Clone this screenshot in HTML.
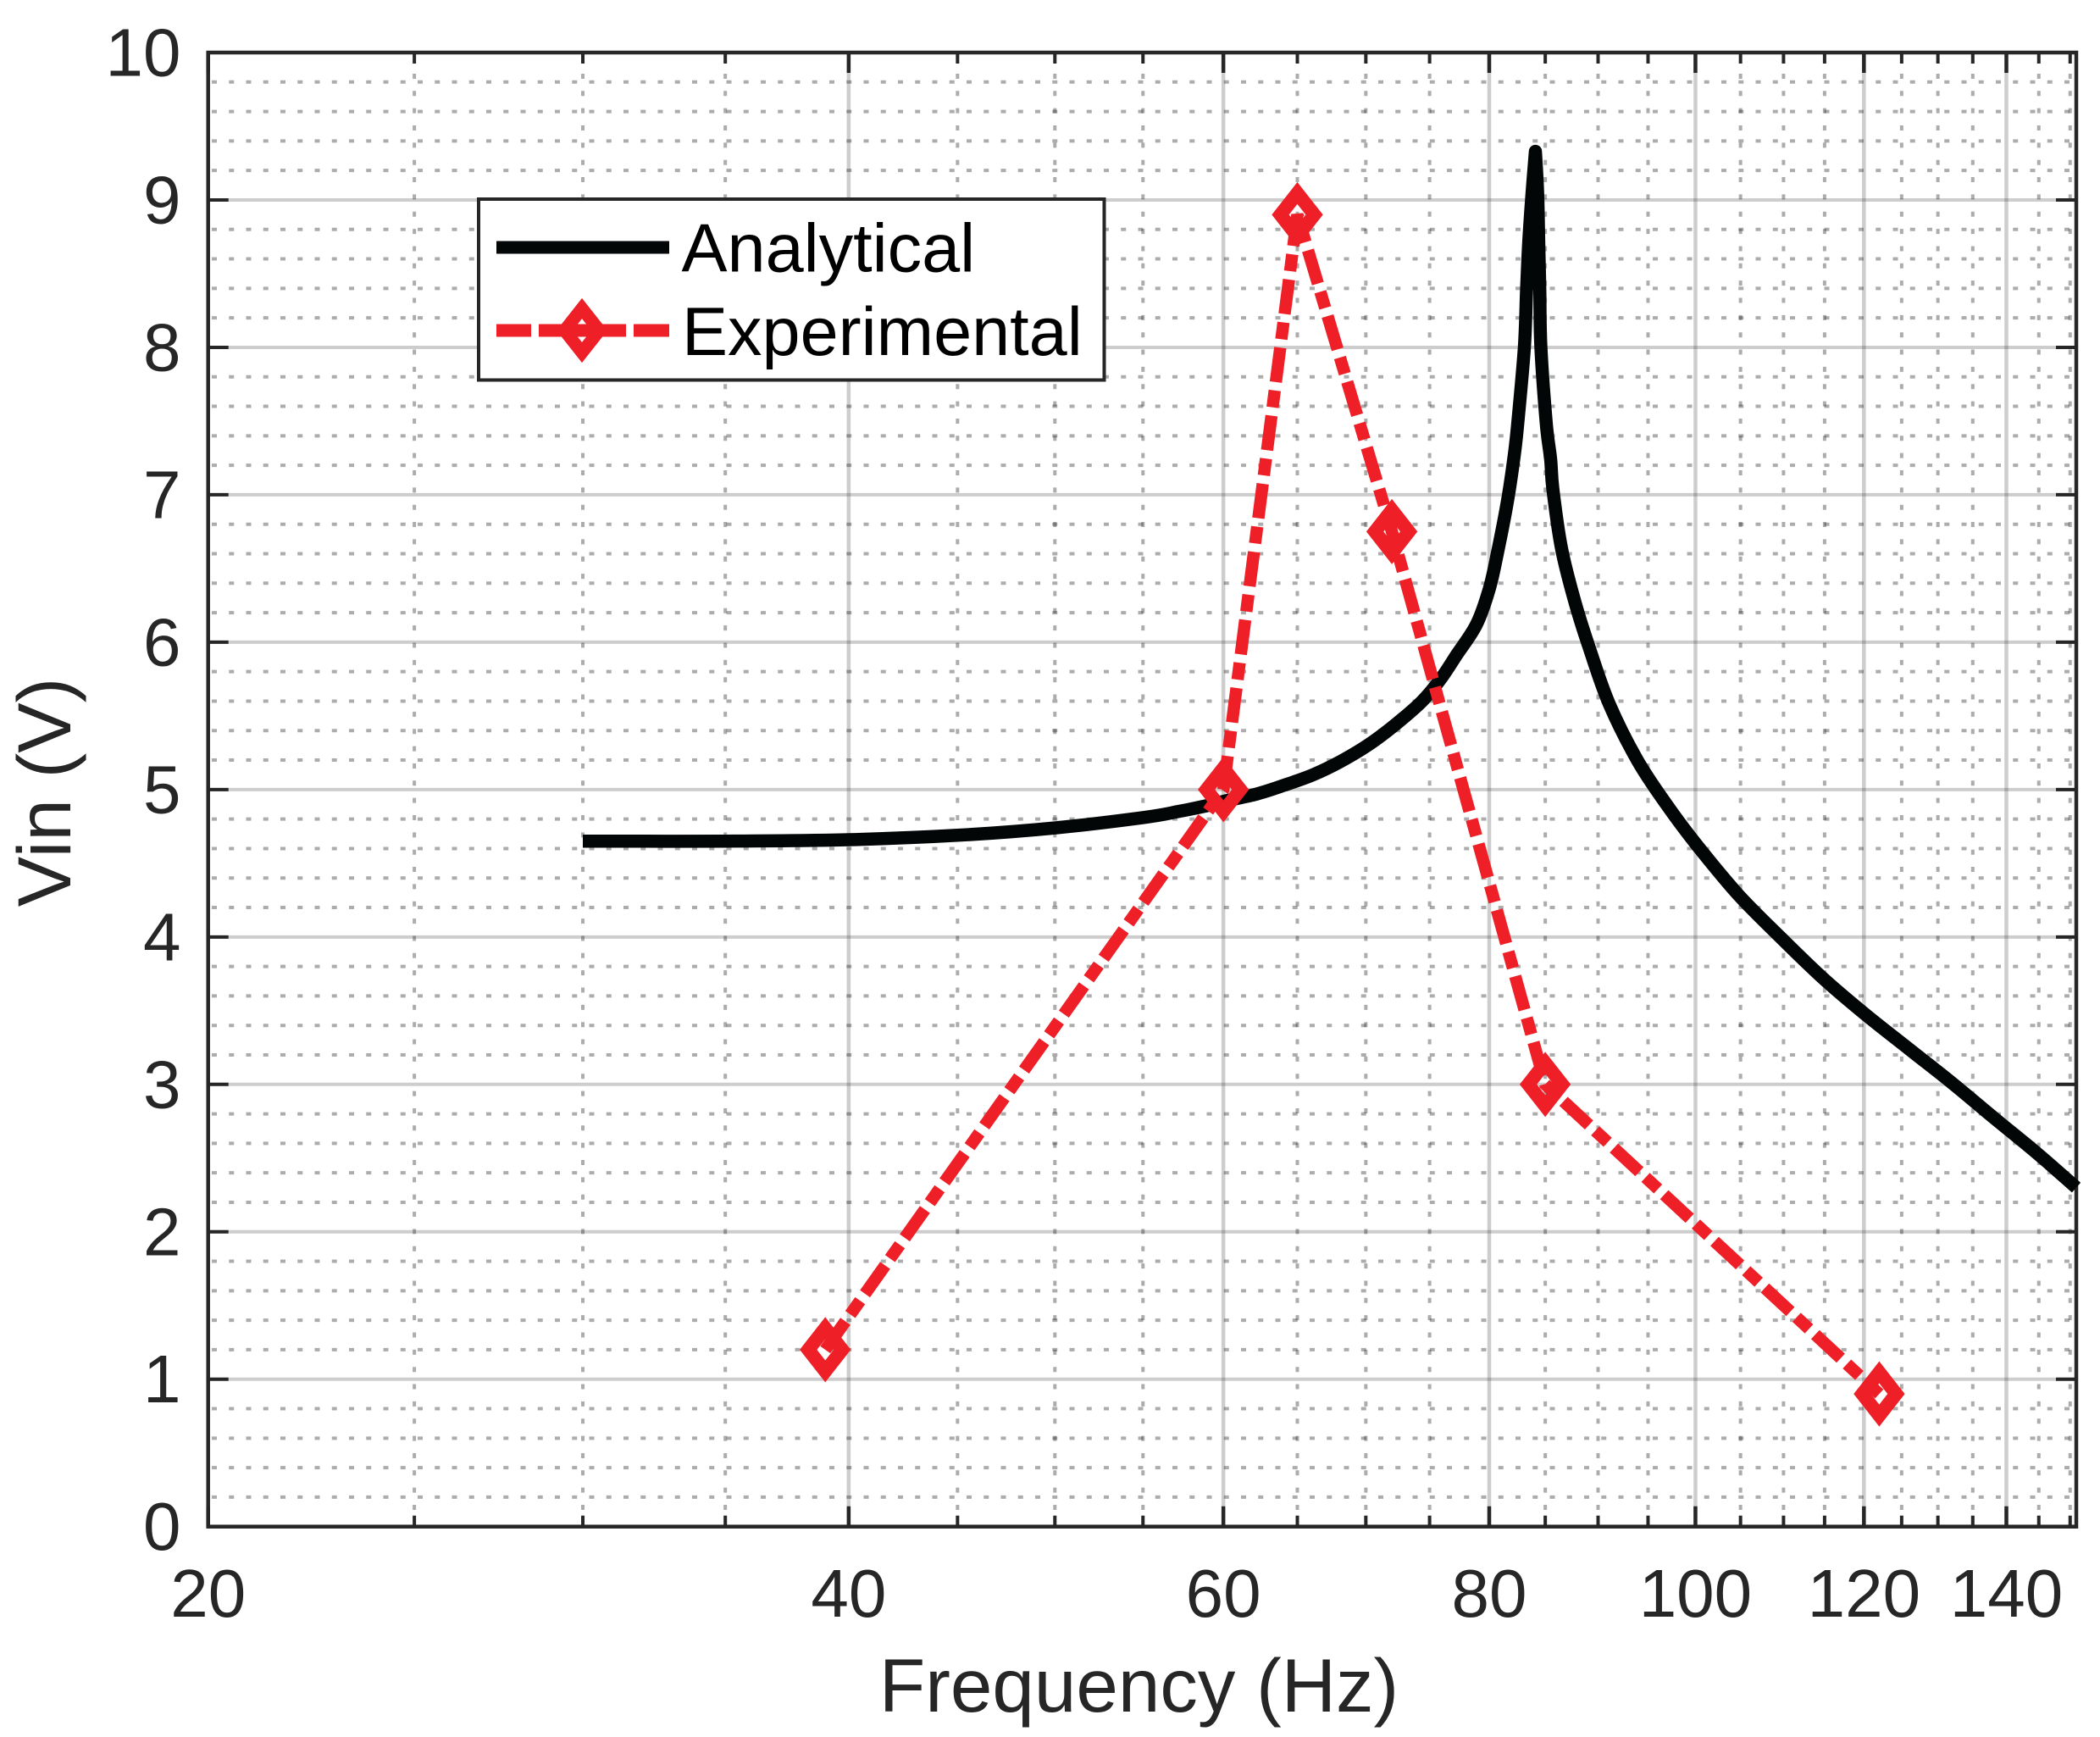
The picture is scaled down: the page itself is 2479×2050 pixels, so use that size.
<!DOCTYPE html>
<html lang="en">
<head>
<meta charset="utf-8">
<title>Vin vs Frequency</title>
<style>
html,body{margin:0;padding:0;background:#fff;}
svg{display:block;font-family:"Liberation Sans",Arial,sans-serif;}
</style>
</head>
<body>
<svg id="chart" xmlns="http://www.w3.org/2000/svg" width="2479" height="2050" viewBox="0 0 2479 2050">
  <rect x="0" y="0" width="2479" height="2050" fill="#ffffff"/>
  <g id="grid"></g>
  <g id="series"></g>
  <g id="axes"></g>
  <text x="1344.5" y="2020" font-size="89" text-anchor="middle" fill="#262626">Frequency (Hz)</text>
  <text transform="translate(83,935) rotate(-90)" font-size="89" text-anchor="middle" fill="#262626">Vin (V)</text>
  <g>
    <rect x="565" y="235" width="738.5" height="213.5" fill="#ffffff" stroke="#262626" stroke-width="4"/>
    <line x1="586" y1="292" x2="790" y2="292" stroke="#030607" stroke-width="15"/>
    <line x1="586" y1="390" x2="790" y2="390" stroke="#ee1f27" stroke-width="15" stroke-dasharray="41 9 103 9 42"/>
    <polygon points="687,364 707.5,390 687,416 666.5,390" fill="none" stroke="#ee1f27" stroke-width="15" stroke-miterlimit="10"/>
    <text x="804.5" y="320.5" font-size="81" fill="#000000">Analytical</text>
    <text x="805" y="419" font-size="81" fill="#000000">Experimental</text>
  </g>
</svg>
<script>
// Axis tick values
const xMajorTicks = [20, 40, 60, 80, 100, 120, 140];
const xMinorTicks = [25, 30, 35, 45, 50, 55, 65, 70, 75, 85, 90, 95, 105, 110, 115, 125, 130, 135, 145, 150];
const yMajorTicks = [0, 1, 2, 3, 4, 5, 6, 7, 8, 9, 10];
const yMinorTicks = [0.2, 0.4, 0.6, 0.8, 1.2, 1.4, 1.6, 1.8, 2.2, 2.4, 2.6, 2.8, 3.2, 3.4, 3.6, 3.8, 4.2, 4.4, 4.6, 4.8, 5.2, 5.4, 5.6, 5.8, 6.2, 6.4, 6.6, 6.8, 7.2, 7.4, 7.6, 7.8, 8.2, 8.4, 8.6, 8.8, 9.2, 9.4, 9.6, 9.8];

// Analytical series
const analyticalFreq = [30, 35, 40, 45, 50, 55, 57.1, 58.9, 60, 62.2, 64.1, 66.1, 68.1, 70.3, 72.4, 74.4, 75.9, 77.2, 78.9, 80, 80.7, 81.6, 82.2, 82.5, 83.1, 83.3, 83.5, 83.8, 84.1, 84.3, 84.4, 84.5, 84.6, 85.1, 85.5, 85.7, 86.5, 87.7, 89.2, 91.1, 93.9, 96.9, 100.2, 104.7, 109.6, 114.8, 120.3, 126, 132, 138.2, 144.8, 151];
const analyticalVin = [4.65, 4.65, 4.66, 4.69, 4.74, 4.81, 4.85, 4.89, 4.92, 4.97, 5.03, 5.1, 5.19, 5.31, 5.45, 5.6, 5.75, 5.91, 6.12, 6.36, 6.6, 6.96, 7.27, 7.48, 8.0, 8.39, 8.72, 9.05, 9.33, 9.05, 8.72, 8.39, 8.0, 7.48, 7.24, 7.04, 6.64, 6.29, 5.95, 5.58, 5.2, 4.9, 4.62, 4.29, 4.0, 3.72, 3.47, 3.24, 3.01, 2.77, 2.53, 2.3];

// Experimental series
const experimentalFreq = [39, 60, 65, 72, 85, 122];
const experimentalVin = [1.2, 5, 8.9, 6.75, 3, 0.9];

const SVG_NS = 'http://www.w3.org/2000/svg';
const plotLeft = 245.7, plotRight = 2451, plotTop = 62, plotBottom = 1801.7;
const xMin = 20, xMax = 151, yMin = 0, yMax = 10;

function xScale(f) {
  return plotLeft + (plotRight - plotLeft) * Math.log(f / xMin) / Math.log(xMax / xMin);
}
function yScale(v) {
  return plotBottom - (plotBottom - plotTop) * (v - yMin) / (yMax - yMin);
}
function make(tag, attrs, parent) {
  const el = document.createElementNS(SVG_NS, tag);
  for (const k in attrs) el.setAttribute(k, attrs[k]);
  parent.appendChild(el);
  return el;
}
// Smooth curve through a run of points (Catmull-Rom), kept sharp at the run's ends
function smoothRun(pts) {
  let d = '';
  for (let i = 0; i < pts.length - 1; i++) {
    const p0 = pts[Math.max(0, i - 1)], p1 = pts[i], p2 = pts[i + 1], p3 = pts[Math.min(pts.length - 1, i + 2)];
    const c1x = p1[0] + (p2[0] - p0[0]) / 6, c1y = p1[1] + (p2[1] - p0[1]) / 6;
    const c2x = p2[0] - (p3[0] - p1[0]) / 6, c2y = p2[1] - (p3[1] - p1[1]) / 6;
    d += ' C' + c1x.toFixed(1) + ' ' + c1y.toFixed(1) + ' ' + c2x.toFixed(1) + ' ' + c2y.toFixed(1) + ' ' + p2[0].toFixed(1) + ' ' + p2[1].toFixed(1);
  }
  return d;
}

const grid = document.getElementById('grid');
const series = document.getElementById('series');
const axes = document.getElementById('axes');
const INK = '#262626';

// Minor grid
yMinorTicks.forEach(function (v) {
  const el = make('line', {x1: 250, x2: plotRight - 2, y1: yScale(v), y2: yScale(v), stroke: INK, 'stroke-opacity': 0.38, 'stroke-width': 4, 'stroke-dasharray': '6 14.25'}, grid);
  
  
});
xMinorTicks.forEach(function (f) {
  const el = make('line', {x1: xScale(f), x2: xScale(f), y1: 1782, y2: plotTop + 20, stroke: INK, 'stroke-opacity': 0.38, 'stroke-width': 4, 'stroke-dasharray': '6 14.35'}, grid);
  
  
});
// Major grid
yMajorTicks.slice(1, -1).forEach(function (v) {
  const el = make('line', {x1: plotLeft, x2: plotRight, y1: yScale(v), y2: yScale(v), stroke: INK, 'stroke-opacity': 0.23, 'stroke-width': 4}, grid);
  
  
});
xMajorTicks.slice(1).forEach(function (f) {
  const el = make('line', {x1: xScale(f), x2: xScale(f), y1: plotTop, y2: plotBottom, stroke: INK, 'stroke-opacity': 0.23, 'stroke-width': 4.5}, grid);
  
  
});

// Analytical curve: smooth on both flanks, sharp at the resonance peak
const analyticalPts = analyticalFreq.map(function (f, i) {
  return [xScale(f), yScale(analyticalVin[i])];
});
const peakIndex = analyticalVin.indexOf(Math.max.apply(null, analyticalVin));
const analyticalPath = 'M' + analyticalPts[0][0].toFixed(1) + ' ' + analyticalPts[0][1].toFixed(1) +
  smoothRun(analyticalPts.slice(0, peakIndex + 1)) + smoothRun(analyticalPts.slice(peakIndex));
const analyticalLine = make('path', {d: analyticalPath, fill: 'none', stroke: '#030607', 'stroke-width': 15.5, 'stroke-linejoin': 'round', 'stroke-linecap': 'butt'}, series);



// Experimental curve
const experimentalPts = experimentalFreq.map(function (f, i) {
  return xScale(f).toFixed(1) + ',' + yScale(experimentalVin[i]).toFixed(1);
}).join(' ');
const experimentalLine = make('polyline', {points: experimentalPts, fill: 'none', stroke: '#ee1f27', 'stroke-width': 14.5, 'stroke-linejoin': 'miter', 'stroke-dasharray': '41 10 20 10'}, series);



experimentalFreq.forEach(function (f, i) {
  const cx = xScale(f), cy = yScale(experimentalVin[i]);
  const pts = [[0, -25.5], [20, 0], [0, 25.5], [-20, 0]].map(function (p) {
    return (cx + p[0]).toFixed(1) + ',' + (cy + p[1]).toFixed(1);
  }).join(' ');
  const el = make('polygon', {points: pts, fill: 'none', stroke: '#ee1f27', 'stroke-width': 16, 'stroke-miterlimit': 10}, series);
  
  
});

// Ticks
xMajorTicks.forEach(function (f) {
  const x = xScale(f);
  const b = make('line', {x1: x, x2: x, y1: plotBottom, y2: plotBottom - 24, stroke: INK, 'stroke-width': 4.5}, axes);
  
  
  const t = make('line', {x1: x, x2: x, y1: plotTop, y2: plotTop + 24, stroke: INK, 'stroke-width': 4.5}, axes);
  
  
  const label = make('text', {x: x, y: 1908, 'font-size': 80, 'text-anchor': 'middle', fill: INK}, axes);
  label.textContent = String(f);
  
  
});
xMinorTicks.forEach(function (f) {
  const x = xScale(f);
  const b = make('line', {x1: x, x2: x, y1: plotBottom, y2: plotBottom - 13, stroke: INK, 'stroke-width': 4}, axes);
  
  
  const t = make('line', {x1: x, x2: x, y1: plotTop, y2: plotTop + 13, stroke: INK, 'stroke-width': 4}, axes);
  
  
});
yMajorTicks.forEach(function (v) {
  const y = yScale(v);
  const l = make('line', {x1: plotLeft, x2: plotLeft + 24, y1: y, y2: y, stroke: INK, 'stroke-width': 4}, axes);
  
  
  const r = make('line', {x1: plotRight, x2: plotRight - 24, y1: y, y2: y, stroke: INK, 'stroke-width': 4}, axes);
  
  
  const label = make('text', {x: 213.5, y: y + 27.5, 'font-size': 80, 'text-anchor': 'end', fill: INK}, axes);
  label.textContent = String(v);
  
  
});
const frame = make('rect', {x: plotLeft, y: plotTop, width: plotRight - plotLeft, height: plotBottom - plotTop, fill: 'none', stroke: INK, 'stroke-width': 4.5}, axes);



// Keep the curve end on top of the frame, as in the original
series.parentNode.insertBefore(axes, series);
document.getElementById('chart').insertBefore(grid, axes);
</script>
</body>
</html>
